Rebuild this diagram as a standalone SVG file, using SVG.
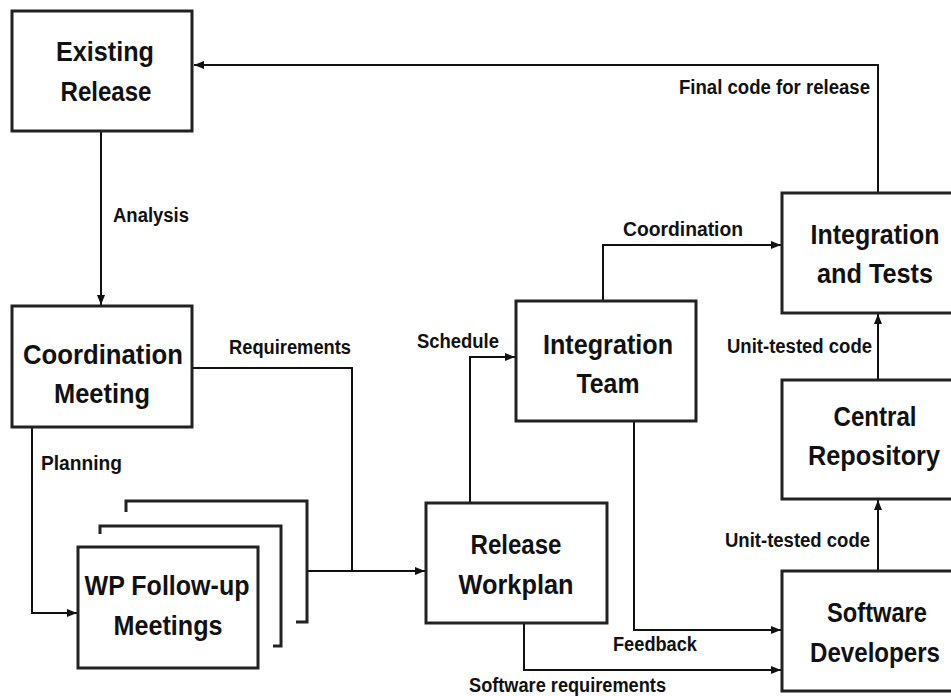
<svg xmlns="http://www.w3.org/2000/svg" width="951" height="696" viewBox="0 0 951 696">
<defs>
<style>
.box{fill:#fff;stroke:#222;stroke-width:3}
.stk{fill:none;stroke:#222;stroke-width:3}
.ln{fill:none;stroke:#111;stroke-width:2}
.nt{font-family:"Liberation Sans",Arial,sans-serif;font-weight:bold;font-size:27px;fill:#111;text-anchor:middle}
.lb{font-family:"Liberation Sans",Arial,sans-serif;font-weight:bold;font-size:20px;fill:#111}
</style>
<marker id="ah" markerUnits="userSpaceOnUse" markerWidth="10" markerHeight="10" viewBox="0 0 10 10" refX="10" refY="5" orient="auto">
<path d="M0,1 L10,5 L0,9 Z" fill="#111"/>
</marker>
</defs>
<rect width="951" height="696" fill="#fff"/>
<g id="connectors">
<path class="ln" d="M878,193 V65 H194" marker-end="url(#ah)"/>
<path class="ln" d="M101,131 V305" marker-end="url(#ah)"/>
<path class="ln" d="M192,368 H352 V571"/>
<path class="ln" d="M32,427 V613 H77" marker-end="url(#ah)"/>
<path class="ln" d="M307,571 H425" marker-end="url(#ah)"/>
<path class="ln" d="M470,503 V357 H515" marker-end="url(#ah)"/>
<path class="ln" d="M603,301 V245 H781" marker-end="url(#ah)"/>
<path class="ln" d="M634,421 V630 H781" marker-end="url(#ah)"/>
<path class="ln" d="M524,623 V670 H781" marker-end="url(#ah)"/>
<path class="ln" d="M878,380 V314" marker-end="url(#ah)"/>
<path class="ln" d="M878,571 V500" marker-end="url(#ah)"/>
<text class="lb" x="113" y="222" textLength="76" lengthAdjust="spacingAndGlyphs">Analysis</text>
<text class="lb" x="229" y="354" textLength="122" lengthAdjust="spacingAndGlyphs">Requirements</text>
<text class="lb" x="41" y="470" textLength="81" lengthAdjust="spacingAndGlyphs">Planning</text>
<text class="lb" x="417" y="348" textLength="82" lengthAdjust="spacingAndGlyphs">Schedule</text>
<text class="lb" x="623" y="236" textLength="120" lengthAdjust="spacingAndGlyphs">Coordination</text>
<text class="lb" x="727" y="353" textLength="145" lengthAdjust="spacingAndGlyphs">Unit-tested code</text>
<text class="lb" x="725" y="547" textLength="145" lengthAdjust="spacingAndGlyphs">Unit-tested code</text>
<text class="lb" x="613" y="651" textLength="84" lengthAdjust="spacingAndGlyphs">Feedback</text>
<text class="lb" x="469" y="692" textLength="197" lengthAdjust="spacingAndGlyphs">Software requirements</text>
<text class="lb" x="679" y="94" textLength="191" lengthAdjust="spacingAndGlyphs">Final code for release</text>
</g>
<g id="existing-release">
<rect class="box" x="12" y="11" width="180" height="120"/>
<text class="nt" x="105" y="61" textLength="98" lengthAdjust="spacingAndGlyphs">Existing</text>
<text class="nt" x="106" y="101" textLength="91" lengthAdjust="spacingAndGlyphs">Release</text>
</g>
<g id="coordination-meeting">
<rect class="box" x="12" y="306" width="180" height="121"/>
<text class="nt" x="103" y="364" textLength="160" lengthAdjust="spacingAndGlyphs">Coordination</text>
<text class="nt" x="102" y="403" textLength="96" lengthAdjust="spacingAndGlyphs">Meeting</text>
</g>
<g id="wp-follow-up-meetings">
<path class="stk" d="M126,512 V501 H307 V622 H296"/>
<path class="stk" d="M100,534 V526 H281 V646 H273"/>
<rect class="box" x="78" y="547" width="180" height="121"/>
<text class="nt" x="167" y="595" textLength="165" lengthAdjust="spacingAndGlyphs">WP Follow-up</text>
<text class="nt" x="168" y="635" textLength="109" lengthAdjust="spacingAndGlyphs">Meetings</text>
</g>
<g id="release-workplan">
<rect class="box" x="426" y="503" width="181" height="120"/>
<text class="nt" x="516" y="554" textLength="91" lengthAdjust="spacingAndGlyphs">Release</text>
<text class="nt" x="516" y="594" textLength="115" lengthAdjust="spacingAndGlyphs">Workplan</text>
</g>
<g id="integration-team">
<rect class="box" x="516" y="301" width="180" height="120"/>
<text class="nt" x="608" y="354" textLength="130" lengthAdjust="spacingAndGlyphs">Integration</text>
<text class="nt" x="608" y="393" textLength="63" lengthAdjust="spacingAndGlyphs">Team</text>
</g>
<g id="integration-and-tests">
<rect class="box" x="782" y="193" width="190" height="120"/>
<text class="nt" x="875" y="244" textLength="129" lengthAdjust="spacingAndGlyphs">Integration</text>
<text class="nt" x="875" y="283" textLength="116" lengthAdjust="spacingAndGlyphs">and Tests</text>
</g>
<g id="central-repository">
<rect class="box" x="782" y="380" width="190" height="119"/>
<text class="nt" x="875" y="426" textLength="83" lengthAdjust="spacingAndGlyphs">Central</text>
<text class="nt" x="874" y="465" textLength="132" lengthAdjust="spacingAndGlyphs">Repository</text>
</g>
<g id="software-developers">
<rect class="box" x="782" y="571" width="190" height="120"/>
<text class="nt" x="877" y="622" textLength="100" lengthAdjust="spacingAndGlyphs">Software</text>
<text class="nt" x="875" y="662" textLength="130" lengthAdjust="spacingAndGlyphs">Developers</text>
</g>
</svg>
